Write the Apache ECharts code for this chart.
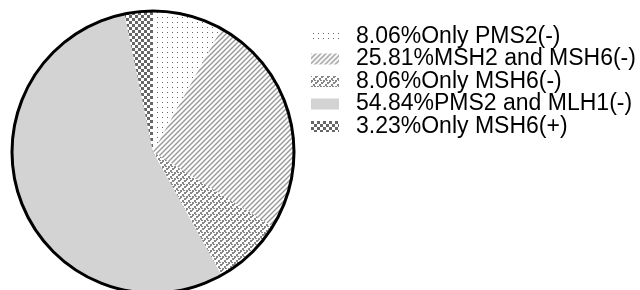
<!DOCTYPE html>
<html>
<head>
<meta charset="utf-8">
<script src="https://cdn.jsdelivr.net/npm/echarts@6/dist/echarts.min.js"></script>
<style>
  html, body { margin: 0; padding: 0; background: #fff; }
  #chart { width: 640px; height: 290px; }
</style>
</head>
<body>
<div id="chart"></div>
<script>
// chart data
const categories = ['Only PMS2(-)', 'MSH2 and MSH6(-)', 'Only MSH6(-)', 'PMS2 and MLH1(-)', 'Only MSH6(+)'];
const counts = [5, 16, 5, 34, 2];

const total = counts.reduce((a, b) => a + b, 0);

// little tile patterns like the original hatch fills
function makeTile(w, h, draw) {
  const c = document.createElement('canvas');
  c.width = w;
  c.height = h;
  const ctx = c.getContext('2d');
  ctx.fillStyle = '#fff';
  ctx.fillRect(0, 0, w, h);
  draw(ctx);
  return { image: c, repeat: 'repeat' };
}

const dots = makeTile(5, 5, ctx => {
  ctx.fillStyle = '#666';
  ctx.fillRect(2, 2, 1, 1);
});

const stripes = makeTile(5, 5, ctx => {
  ctx.strokeStyle = '#999';
  ctx.lineWidth = 1.4;
  for (let k = -5; k <= 5; k += 5) {
    ctx.beginPath();
    ctx.moveTo(k - 1, 6);
    ctx.lineTo(k + 6, -1);
    ctx.stroke();
  }
});

const bricks = makeTile(6, 6, ctx => {
  ctx.fillStyle = '#888';
  // stair steps going up to the right
  ctx.fillRect(0, 4, 2, 2);
  ctx.fillRect(2, 2, 2, 2);
  ctx.fillRect(4, 0, 2, 2);
  ctx.fillRect(0, 0, 1, 1);
  ctx.fillRect(3, 4, 2, 1);
});

const checker = makeTile(6, 6, ctx => {
  ctx.fillStyle = '#666';
  ctx.fillRect(0, 0, 3, 3);
  ctx.fillRect(3, 3, 3, 3);
});

const fills = [dots, stripes, bricks, '#d3d3d3', checker];

const chart = echarts.init(document.getElementById('chart'));

chart.setOption({
  animation: false,
  legend: {
    orient: 'vertical',
    left: 306,
    top: 20,
    itemWidth: 28,
    itemHeight: 11,
    itemGap: -0.5,
    icon: 'rect',
    data: categories,
    formatter: name => {
      const i = categories.indexOf(name);
      return (counts[i] / total * 100).toFixed(2) + '%' + name;
    },
    textStyle: {
      fontFamily: 'Liberation Sans',
      fontSize: 23,
      lineHeight: 20,
      height: 20,
      color: '#000',
      padding: [0, 0, 0, 12]
    }
  },
  series: [
    {
      type: 'pie',
      center: [153, 152],
      radius: 141,
      startAngle: 90,
      clockwise: true,
      label: { show: false },
      labelLine: { show: false },
      emphasis: { disabled: true },
      data: categories.map((name, i) => ({
        name: name,
        value: counts[i],
        itemStyle: { color: fills[i] }
      }))
    },
    {
      // outer ring only
      type: 'pie',
      center: [153, 152],
      radius: 141,
      silent: true,
      label: { show: false },
      labelLine: { show: false },
      data: [{ name: 'outline', value: 1 }],
      itemStyle: { color: 'rgba(0,0,0,0)', borderColor: '#000', borderWidth: 3 }
    }
  ]
});
</script>
</body>
</html>
